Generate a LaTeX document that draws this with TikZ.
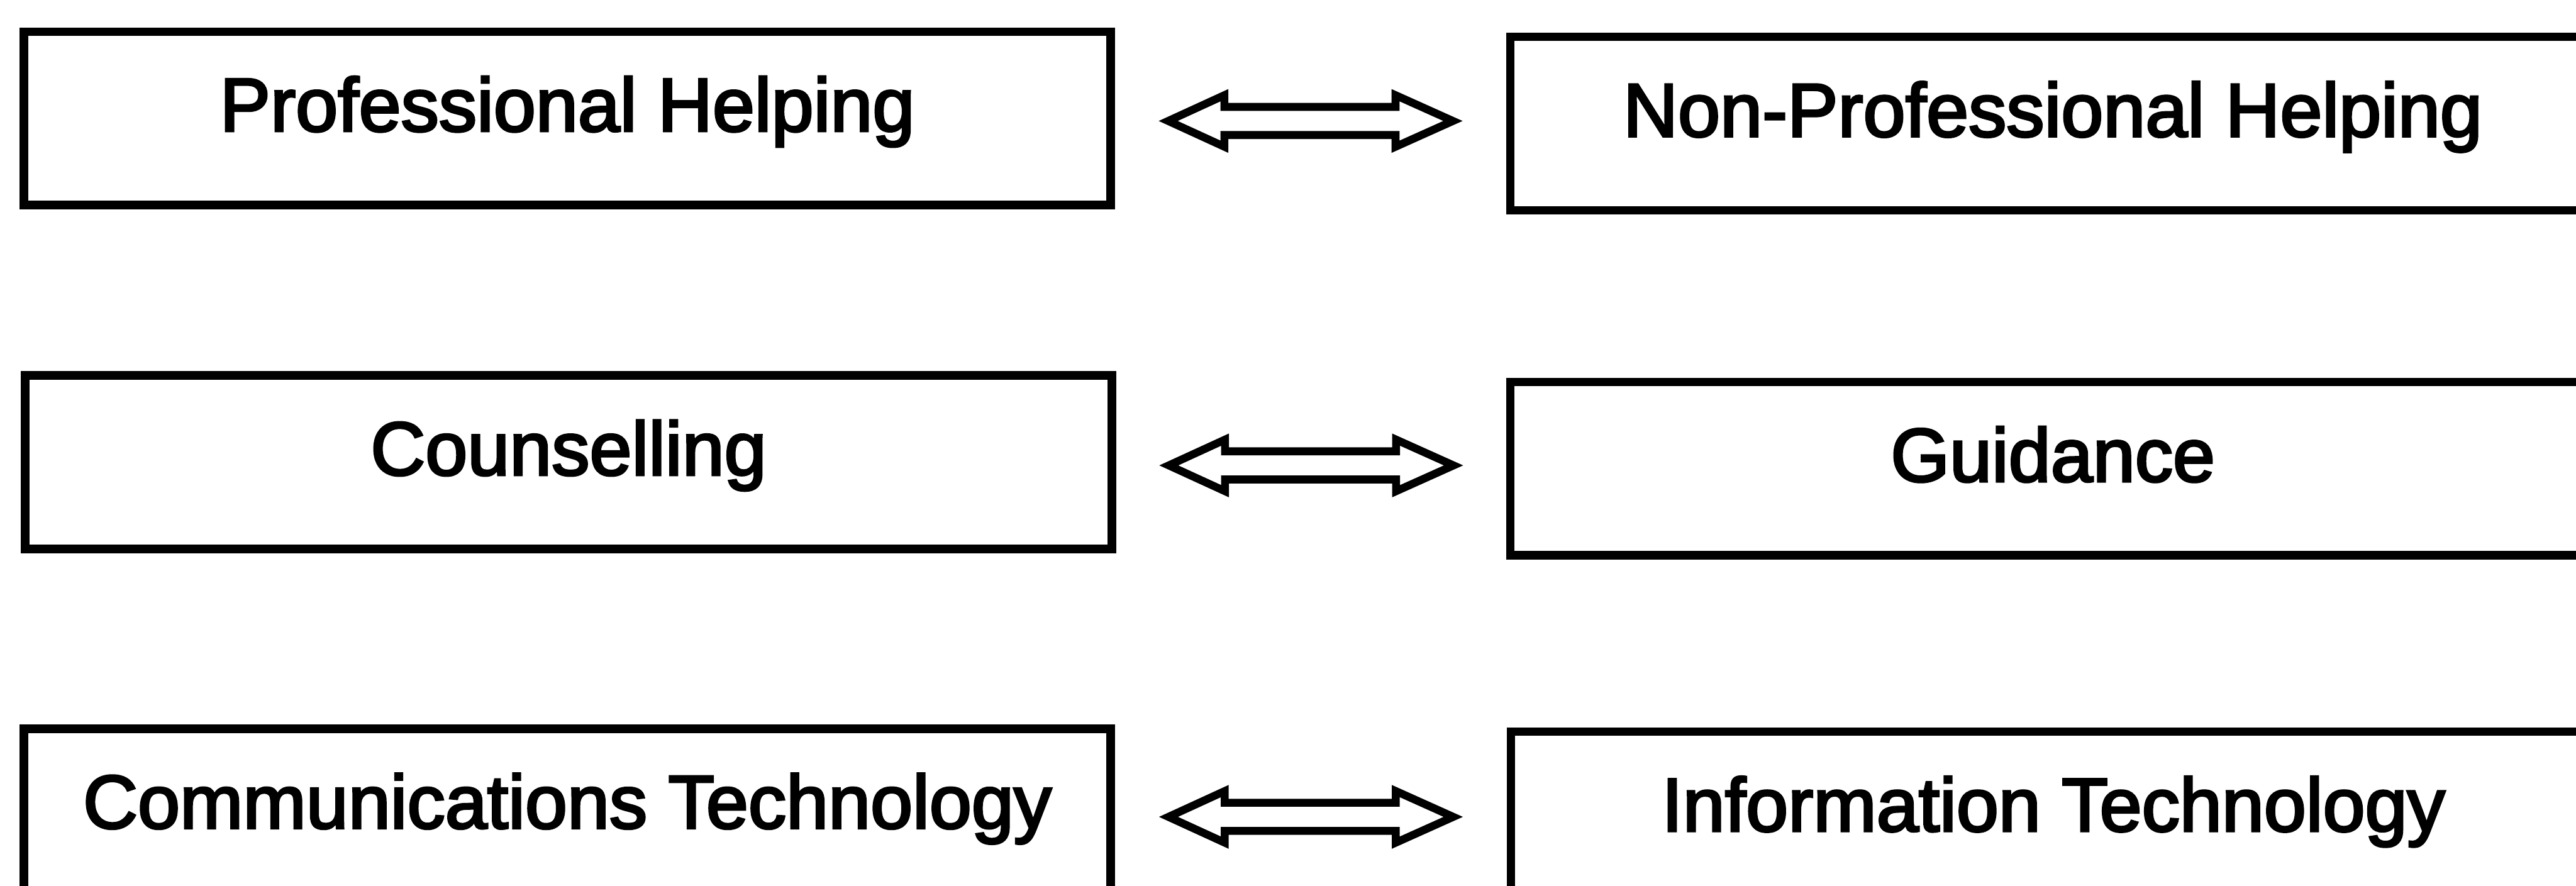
\documentclass[tikz,border=0pt]{standalone}
\usepackage{fontspec}
\setmainfont{Liberation Sans}[FakeBold=3]
\usetikzlibrary{calc}
\begin{document}
\begin{tikzpicture}[
  box/.style={draw=black, line width=0.145cm, rectangle, inner sep=0pt, outer sep=0pt,
    minimum width=18.55cm, minimum height=2.96cm, anchor=north west,
    font=\fontsize{36.8}{44}\selectfont, text height=0.9cm, text depth=0.46cm},
  rbox/.style={box, minimum width=18.52cm},
  dblarrow/.pic={
    \draw[line width=0.135cm, line join=miter]
      (-2.43,0) -- (-1.47,0.44) -- (-1.47,0.24) -- (1.45,0.24) -- (1.45,0.44)
      -- (2.43,0) -- (1.45,-0.44) -- (1.45,-0.24) -- (-1.47,-0.24)
      -- (-1.47,-0.44) -- cycle;
  }
]
\useasboundingbox (0,0) rectangle (43.97,-15.12);
\clip (0,0) rectangle (43.97,-15.12);
\fill[white] (0,0) rectangle (43.97,-15.12);

% left column
\node[box] (L1) at (0.41,-0.54)  {Professional Helping};
\node[box] (L2) at (0.43,-6.41)  {Counselling};
\node[box] (L3) at (0.41,-12.44) {Communications Technology};

% right column (runs past the right margin)
\node[rbox] (R1) at (25.78,-0.63)  {Non-Professional Helping};
\node[rbox] (R2) at (25.78,-6.52)  {Guidance};
\node[rbox] (R3) at (25.79,-12.49) {Information Technology};

% two-way hollow arrows between each pair
\path ($(L1.east)!0.5!(R1.west)$) pic {dblarrow};
\path ($(L2.east)!0.5!(R2.west)$) pic {dblarrow};
\path ($(L3.east)!0.5!(R3.west)$) pic {dblarrow};
\end{tikzpicture}
\end{document}
